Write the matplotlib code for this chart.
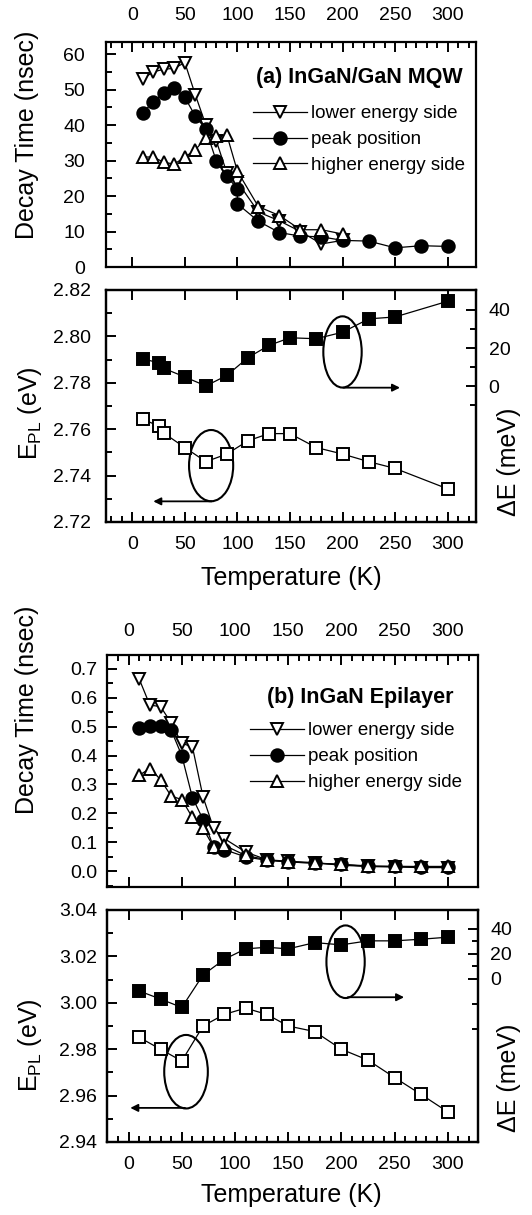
import matplotlib
matplotlib.use("Agg")
import matplotlib.pyplot as plt
from matplotlib.patches import Ellipse
from matplotlib.ticker import MultipleLocator, FixedLocator

plt.rcParams['font.family'] = ['Liberation Sans', 'DejaVu Sans']
plt.rcParams['mathtext.fontset'] = 'custom'
plt.rcParams['mathtext.rm'] = 'Liberation Sans'
plt.rcParams['mathtext.it'] = 'Liberation Sans'

# ---------------- (a) InGaN/GaN MQW : decay time ----------------
a_T_low = [10, 20, 30, 40, 50, 60, 70, 80, 90, 100, 120, 140, 160, 180, 200]
a_tau_low = [53, 55, 55.7, 56, 57.6, 48.5, 40, 35.5, 26.5, 24, 15.5, 13, 10, 6.5, 7.5]
a_T_peak = [10, 20, 30, 40, 50, 60, 70, 80, 90, 100, 100, 120, 140, 160, 180, 200, 225, 250, 275, 300]
a_tau_peak = [43.5, 46.5, 49, 50.5, 47.8, 42.5, 38.8, 29.8, 25.6, 22, 17.8, 12.9, 9.7, 8.7, 8.5, 7.5, 7.3, 5.4, 6.0, 5.8]
a_T_high = [10, 20, 30, 40, 50, 60, 70, 80, 90, 100, 120, 140, 160, 180, 200]
a_tau_high = [31, 31, 29.5, 29, 31, 33, 36.4, 36.8, 37.2, 27, 17, 14.5, 10.5, 10.5, 9.3]

# ---------------- (a) E_PL and Delta E ----------------
a_T_E = [10, 25, 30, 50, 70, 90, 110, 130, 150, 175, 200, 225, 250, 300]
a_EPL = [2.7643, 2.7614, 2.7583, 2.7521, 2.7460, 2.7493, 2.7550, 2.7581, 2.7581,
         2.7521, 2.7493, 2.7460, 2.7431, 2.7343]
a_dE = [14.4, 12.3, 9.4, 4.9, 0.2, 5.7, 15.0, 21.4, 25.4, 24.9, 28.3, 35.3, 36.3, 44.5]

# ---------------- (b) InGaN epilayer : decay time ----------------
b_T = [10, 20, 30, 40, 50, 60, 70, 80, 90, 110, 130, 150, 175, 200, 225, 250, 275, 300]
b_tau_low = [0.664, 0.574, 0.569, 0.513, 0.442, 0.430, 0.257, 0.148, 0.113, 0.067,
             0.040, 0.035, 0.030, 0.021, 0.017, 0.015, 0.013, 0.013]
b_tau_peak = [0.496, 0.503, 0.502, 0.488, 0.400, 0.255, 0.179, 0.084, 0.075, 0.050,
              0.038, 0.033, 0.028, 0.024, 0.019, 0.017, 0.016, 0.016]
b_tau_high = [0.332, 0.355, 0.317, 0.260, 0.248, 0.186, 0.148, 0.084, 0.090, 0.055,
              0.040, 0.032, 0.029, 0.024, 0.017, 0.017, 0.017, 0.017]

# ---------------- (b) E_PL and Delta E ----------------
b_T_E = [10, 30, 50, 70, 90, 110, 130, 150, 175, 200, 225, 250, 275, 300]
b_EPL = [2.9851, 2.9800, 2.9749, 2.9900, 2.9950, 2.9977, 2.9950, 2.9900, 2.9876,
         2.9800, 2.9753, 2.9678, 2.9605, 2.9530]
b_dE = [-9.6, -16.0, -22.7, 3.2, 15.7, 24.0, 25.3, 24.0, 29.0, 27.2, 30.4, 30.4, 31.7, 33.3]

legend_labels = ['lower energy side', 'peak position', 'higher energy side']
temp_ticks = [0, 50, 100, 150, 200, 250, 300]

W, H = 532, 1215
fig = plt.figure(figsize=(W / 100, H / 100), dpi=100)


def ax_px(l, t, r, b):
    return fig.add_axes([l / W, 1 - b / H, (r - l) / W, (b - t) / H])


FS_TICK = 14
FS_LAB = 18
LW_FRAME = 1.6
mk = dict(color='k', lw=0.9, markersize=9, markeredgewidth=1.4)


def style_frame(ax):
    for s in ax.spines.values():
        s.set_linewidth(LW_FRAME)


def decay_panel(ax, xlim, ylim, ymaj, ymin, T1, y1, T2, y2, T3, y3, title, tpos, lpos,
                yfmt, ypad, xpad):
    l1, = ax.plot(T1, y1, marker='v', mfc='white', mec='k', **mk)
    l2, = ax.plot(T2, y2, marker='o', mfc='k', mec='k', **mk)
    l3, = ax.plot(T3, y3, marker='^', mfc='white', mec='k', **mk)
    ax.set_xlim(*xlim)
    ax.set_ylim(*ylim)
    ax.xaxis.set_major_locator(FixedLocator(temp_ticks))
    ax.xaxis.set_minor_locator(MultipleLocator(10))
    ax.yaxis.set_major_locator(MultipleLocator(ymaj))
    ax.yaxis.set_minor_locator(MultipleLocator(ymin))
    ax.yaxis.set_major_formatter(yfmt)
    ax.tick_params(axis='x', which='both', direction='in', top=True, bottom=True,
                   labeltop=True, labelbottom=False, labelsize=FS_TICK, pad=xpad)
    ax.tick_params(axis='x', which='minor', bottom=False)
    ax.tick_params(axis='y', which='both', direction='in', left=True, right=False,
                   labelsize=FS_TICK, pad=ypad)
    ax.tick_params(which='major', length=7, width=1.4)
    ax.tick_params(which='minor', length=4, width=1.4)
    style_frame(ax)
    ax.text(tpos[0], tpos[1], title, transform=ax.transAxes, ha='right', va='center',
            fontsize=15.5, fontweight='bold')
    ax.legend([l1, l2, l3], legend_labels, loc='upper left', bbox_to_anchor=lpos,
              frameon=False, fontsize=13.5, handlelength=2.9, handletextpad=0.2,
              labelspacing=0.47, borderpad=0, borderaxespad=0, numpoints=1)


def energy_panel(ax, xlim, ylim, ylim2, T, E, dE, ell1, arr1, ell2, arr2, ypad,
                 r_major, r_minor):
    ax.plot(T, E, marker='s', mfc='white', mec='k', color='k', lw=0.9, markersize=8,
            markeredgewidth=1.4)
    ax.set_xlim(*xlim)
    ax.set_ylim(*ylim)
    ax.xaxis.set_major_locator(FixedLocator(temp_ticks))
    ax.xaxis.set_minor_locator(MultipleLocator(10))
    ax.yaxis.set_major_locator(MultipleLocator(0.02))
    ax.yaxis.set_minor_locator(MultipleLocator(0.01))
    ax.yaxis.set_major_formatter('{x:.2f}')
    ax.tick_params(axis='x', which='both', direction='in', top=True, bottom=True,
                   labeltop=False, labelbottom=True, labelsize=FS_TICK, pad=10)
    ax.tick_params(axis='x', which='minor', top=False)
    ax.tick_params(axis='y', which='both', direction='in', left=True, right=False,
                   labelsize=FS_TICK, pad=ypad)
    ax.tick_params(which='major', length=7, width=1.4)
    ax.tick_params(which='minor', length=4, width=1.4)
    style_frame(ax)
    ax2 = ax.twinx()
    ax2.plot(T, dE, marker='s', mfc='k', mec='k', color='k', lw=0.9, markersize=8,
             markeredgewidth=1.4)
    ax2.set_ylim(*ylim2)
    ax2.yaxis.set_major_locator(FixedLocator(r_major))
    ax2.yaxis.set_minor_locator(FixedLocator(r_minor))
    ax2.tick_params(axis='y', which='both', direction='in', labelsize=FS_TICK, pad=9)
    ax2.tick_params(which='major', length=7, width=1.4)
    ax2.tick_params(which='minor', length=4, width=1.4)
    style_frame(ax2)
    for (cx, cy, w, h), (x0, x1, ya) in ((ell1, arr1), (ell2, arr2)):
        ax.add_patch(Ellipse((cx, cy), w, h, fill=False, lw=1.5, ec='k'))
        ax.annotate('', xy=(x1, ya), xytext=(x0, ya),
                    arrowprops=dict(arrowstyle='-|>', lw=1.3, color='k',
                                    mutation_scale=11, shrinkA=0, shrinkB=0))
    return ax2


# panel (a) decay
axa = ax_px(106, 42, 476, 267)
decay_panel(axa, (-25, 327), (0, 63.4), 10, 5, a_T_low, a_tau_low, a_T_peak, a_tau_peak,
            a_T_high, a_tau_high, '(a) InGaN/GaN MQW', (0.965, 0.84), (0.397, 0.72),
            '{x:.0f}', 15, 13)

# panel (a) energy
axa2 = ax_px(106, 290, 476, 522)
energy_panel(axa2, (-25, 327), (2.72, 2.82), (-71, 50.4), a_T_E, a_EPL, a_dE,
             (200, 2.7933, 36.5, 0.0307), (200.8, 254.7, 2.7779),
             (75, 2.7443, 42, 0.0307), (75.5, 20, 2.7289), 11,
             [0, 20, 40], [-10, 10, 30])

# panel (b) decay
axb = ax_px(107, 655, 478, 887)
decay_panel(axb, (-20.3, 328.5), (-0.054, 0.747), 0.1, 0.05, b_T, b_tau_low, b_T, b_tau_peak,
            b_T, b_tau_high, '(b) InGaN Epilayer', (0.933, 0.815), (0.385, 0.71),
            '{x:.1f}', 7, 11)

# panel (b) energy
axb2 = ax_px(107, 910, 478, 1142)
energy_panel(axb2, (-20.3, 328.5), (2.94, 3.04), (-130, 55), b_T_E, b_EPL, b_dE,
             (204, 3.0177, 36, 0.0313), (206, 259, 3.0024),
             (54, 2.9703, 41, 0.0317), (53, 1.6, 2.9547), 7,
             [0, 20, 40], [-40, -20, 10, 30])

# axis labels
fig.text(27 / W, 1 - 135 / H, 'Decay Time (nsec)', rotation=90, ha='center', va='center', fontsize=FS_LAB)
fig.text(30 / W, 1 - 413 / H, r'E$_{\rm PL}$ (eV)', rotation=90, ha='center', va='center', fontsize=FS_LAB)
fig.text(509 / W, 1 - 462 / H, 'ΔE (meV)', rotation=90, ha='center', va='center', fontsize=FS_LAB)
fig.text(291 / W, 1 - 578 / H, 'Temperature (K)', ha='center', va='center', fontsize=FS_LAB)

fig.text(27 / W, 1 - 710 / H, 'Decay Time (nsec)', rotation=90, ha='center', va='center', fontsize=FS_LAB)
fig.text(30 / W, 1 - 1045 / H, r'E$_{\rm PL}$ (eV)', rotation=90, ha='center', va='center', fontsize=FS_LAB)
fig.text(509 / W, 1 - 1078 / H, 'ΔE (meV)', rotation=90, ha='center', va='center', fontsize=FS_LAB)
fig.text(291 / W, 1 - 1195 / H, 'Temperature (K)', ha='center', va='center', fontsize=FS_LAB)

fig.savefig('out.png', dpi=100)
